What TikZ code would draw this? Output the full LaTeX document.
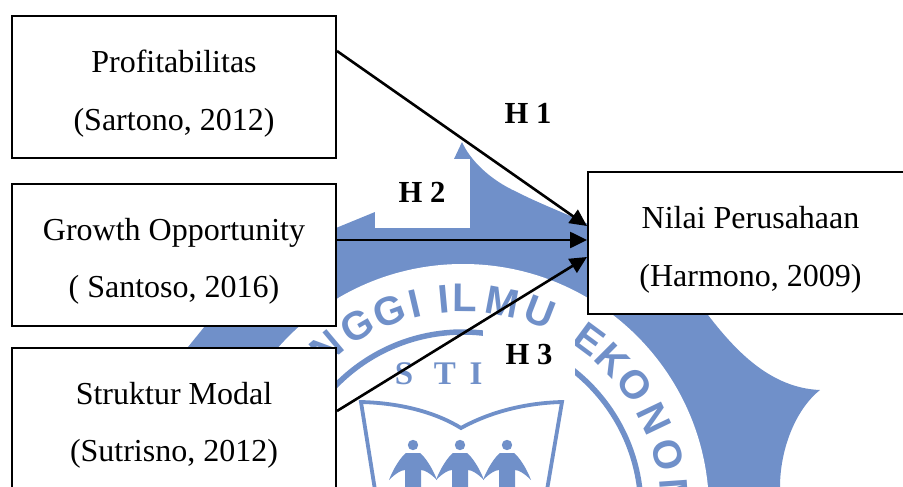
\documentclass[tikz,border=0pt]{standalone}
\usepackage{fontspec}
\setmainfont{Liberation Serif}
\newfontfamily\wmfont{Liberation Sans}
\definecolor{wm}{HTML}{7090C9}
\usetikzlibrary{arrows.meta}
\tikzset{
  box/.style={draw=black,line width=2pt,fill=white,align=center,inner sep=0pt,
    font=\fontsize{32}{57.5}\selectfont},
  hyp/.style={font=\fontsize{30.6}{36}\selectfont\bfseries,inner sep=0pt},
  arr/.style={line width=2.6pt,-{Triangle[length=17pt,width=16pt]}},
  ringletter/.style={text=wm,font=\fontsize{40}{44}\selectfont\wmfont\bfseries,inner sep=0pt},
  stitext/.style={text=wm,font=\fontsize{33}{36}\selectfont\bfseries,inner sep=0pt},
  cover/.style={fill=white,draw=none},
  person/.style={fill=wm,draw=none}
}
\newcommand{\ringch}[2]{\node[ringletter,rotate=-#1] at ({463+212*sin(#1)},{510-212*cos(#1)}) {#2};}
\newcommand{\personfig}[1]{%
  \begin{scope}[shift={(#1,0)}]
  \fill[person] (0,445) circle (5.2);
  \fill[person] (-7,453) -- (7,453) .. controls (12,457) and (19,467) .. (24,480)
     .. controls (18,474) and (12,470) .. (8,470) -- (8,487) -- (-8,487) -- (-8,470)
     .. controls (-12,470) and (-18,474) .. (-24,480) .. controls (-19,467) and (-12,457) .. (-7,453) -- cycle;
  \end{scope}}
\newcommand{\up}{\rule{0pt}{36pt}}
\begin{document}
\begin{tikzpicture}[x=1pt,y=-1pt]
\useasboundingbox (0,0) rectangle (903,487);
\clip (0,0) rectangle (903,487);
% star
\fill[wm] (462,142) .. controls (470,160) and (490,180) .. (517,192)
  .. controls (540,204) and (570,215) .. (590,225)
  .. controls (640,240) and (680,280) .. (708,315)
  .. controls (735,350) and (770,388) .. (820,390)
  .. controls (795,410) and (780,450) .. (780,487)
  -- (95,487) -- (188,347) -- (205,326) .. controls (245,292) and (290,258) .. (336,228)
  -- (375,212) -- (454,159) -- cycle;
% white ring interior
\fill[white] (463,510) circle (246);
% ring band
\draw[wm,line width=5.5pt] (463,510) circle (178);
\foreach \a/\c in {-40/N,-29.8/G,-20.3/G,-13.2/I,-5.2/I,0.5/L,10.7/M,21.3/U,36.5/E,45/K,54/O,64.5/N,75/O,86/M}{\ringch{\a}{\c}}
\node[stitext] (s) at (404,374) {S};
\node[stitext] (t) at (445,374) {T};
\node[stitext] (i) at (476,374) {I};
% book
\draw[wm,line width=3.8pt,miter limit=6] (375,490) -- (361,402) .. controls (400,403) and (435,412) .. (461,428)
  .. controls (490,412) and (525,403) .. (562,402) -- (547,490);
\personfig{413}\personfig{460}\personfig{507}
% text covers in front of the watermark
\fill[cover] (375,159) rectangle (470,228);
\fill[cover] (375,130) rectangle (454,159);
\fill[cover] (483,328) rectangle (575,398);
\node[box,minimum width=324pt,minimum height=142pt] (p) at (174,87) {\up Profitabilitas\\(Sartono, 2012)};
\node[box,minimum width=324pt,minimum height=142pt] (g) at (174,254.5) {\up Growth Opportunity\\( Santoso, 2016)};
\node[box,minimum width=324pt,minimum height=142pt] (s2) at (174,418.5) {\up Struktur Modal\\(Sutrisno, 2012)};
\node[box,minimum width=325pt,minimum height=142pt] (n) at (750.5,243) {\up Nilai Perusahaan\\(Harmono, 2009)};
\coordinate (n1) at (587,226);
\coordinate (n2) at (587,240);
\coordinate (n3) at (587,257);
\draw[arr] (p.east |- 0,51) -- (n1);
\draw[arr] (g.east |- 0,240) -- (n2);
\draw[arr] (s2.east |- 0,411) -- (n3);
\node[hyp] (h1) at (528,113) {H 1};
\node[hyp] (h2) at (422,192) {H 2};
\node[hyp] (h3) at (529,355) {H 3};
\end{tikzpicture}
\end{document}
